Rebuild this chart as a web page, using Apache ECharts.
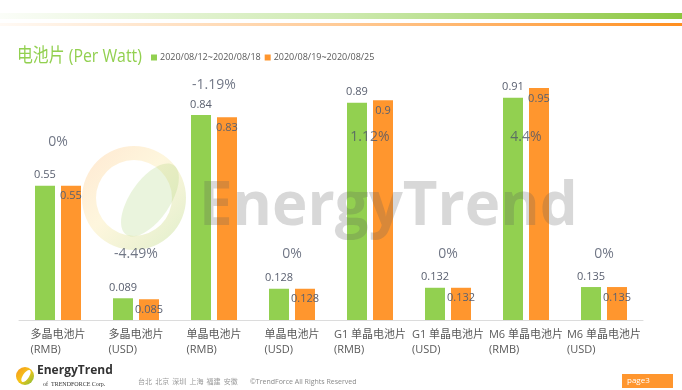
<!DOCTYPE html>
<html>
<head>
<meta charset="utf-8">
<script src="https://cdn.jsdelivr.net/npm/echarts@6/dist/echarts.min.js"></script>
<style>
html,body{margin:0;padding:0;background:#fff;}
#chart{width:682px;height:390px;}
</style>
</head>
<body>
<div id="chart"></div>
<script>
// ---- data ----
var categories = ['多晶电池片\n(RMB)', '多晶电池片\n(USD)', '单晶电池片\n(RMB)', '单晶电池片\n(USD)',
                  'G1 单晶电池片\n(RMB)', 'G1 单晶电池片\n(USD)', 'M6 单晶电池片\n(RMB)', 'M6 单晶电池片\n(USD)'];
var seriesNames = ['2020/08/12~2020/08/18', '2020/08/19~2020/08/25'];
var week1 = [0.55, 0.089, 0.84, 0.128, 0.89, 0.132, 0.91, 0.135];
var week2 = [0.55, 0.085, 0.83, 0.128, 0.9, 0.132, 0.95, 0.135];
var changeText = ['0%', '-4.49%', '-1.19%', '0%', '1.12%', '0%', '4.4%', '0%'];
var changeLabelY = [0.73, 0.27, 0.963, 0.27, 0.75, 0.27, 0.75, 0.27];

var chart = echarts.init(document.getElementById('chart'), null, {renderer: 'canvas'});
var base = '"Open Sans","Noto Sans CJK SC",sans-serif';

var option = {
  backgroundColor: '#ffffff',
  animation: false,
  legend: {
    data: seriesNames,
    left: 151, top: 53,
    icon: 'rect', itemWidth: 6, itemHeight: 6, itemGap: 4, padding: 0,
    textStyle: {color: '#595959', fontSize: 9, fontFamily: base, padding: [0, 0, 0, -2]}
  },
  grid: {left: 19, right: 39, top: 27, bottom: 70, containLabel: false},
  xAxis: {
    type: 'category',
    data: categories,
    axisLine: {show: true, lineStyle: {color: '#dcdcdc', width: 1}},
    axisTick: {show: false},
    axisLabel: {
      interval: 0, margin: 7,
      formatter: function (v) {
        var p = v.split('\n');
        return '{a|' + p[0] + '}\n{a|' + p[1] + '}';
      },
      rich: {a: {align: 'left', fontSize: 11, lineHeight: 15, color: '#595959', fontFamily: base}}
    }
  },
  yAxis: {
    type: 'value', min: 0, max: 1.2,
    show: false, splitLine: {show: false}
  },
  series: [
    {
      name: seriesNames[0], type: 'bar', data: week1,
      barWidth: 20, barGap: '30%',
      itemStyle: {color: '#92D050'},
      label: {show: true, position: 'top', distance: 5, color: '#5a6070', fontSize: 11, fontFamily: base}
    },
    {
      name: seriesNames[1], type: 'bar', data: week2,
      barWidth: 20,
      itemStyle: {color: '#FF962E'},
      label: {show: true, position: 'insideTop', distance: 5, color: '#5a6070', fontSize: 11, fontFamily: base}
    },
    {
      name: 'change', type: 'scatter', data: changeLabelY,
      symbolSize: 0, z: 5,
      label: {
        show: true, position: 'inside', color: '#4d5568', fontSize: 14, fontFamily: base,
        formatter: function (p) { return changeText[p.dataIndex]; }
      },
      tooltip: {show: false}
    }
  ],
  graphic: [
    {type: 'rect', shape: {x: 0, y: 13, width: 682, height: 6}, silent: true,
     style: {fill: new echarts.graphic.LinearGradient(0, 0, 1, 0, [
       {offset: 0, color: 'rgba(146,208,80,0.04)'}, {offset: 0.5, color: 'rgba(146,208,80,0.45)'}, {offset: 1, color: '#8CC63F'}])}},
    {type: 'rect', shape: {x: 0, y: 23, width: 682, height: 3}, silent: true,
     style: {fill: new echarts.graphic.LinearGradient(0, 0, 1, 0, [
       {offset: 0, color: 'rgba(255,150,46,0.05)'}, {offset: 0.5, color: 'rgba(255,150,46,0.5)'}, {offset: 1, color: '#FF8F1F'}])}},
    // title
    {type: 'text', x: 17, y: 47, scaleX: 0.835, silent: true,
     style: {text: '电池片 (Per Watt)', fontSize: 19, fontFamily: base, fill: '#92D050', verticalAlign: 'top'}},
    // watermark logo ring
    {type: 'ring', shape: {cx: 134, cy: 198, r: 52, r0: 38}, silent: true, z: -1,
     style: {fill: new echarts.graphic.LinearGradient(0, 0, 1, 1, [
       {offset: 0, color: 'rgba(255,170,90,0.28)'}, {offset: 0.45, color: 'rgba(250,220,120,0.25)'}, {offset: 1, color: 'rgba(146,200,80,0.3)'}])}},
    {type: 'ellipse', shape: {cx: 150, cy: 200, rx: 20, ry: 42}, rotation: -0.6, originX: 150, originY: 200, silent: true, z: -1,
     style: {fill: 'rgba(170,210,120,0.25)'}},
    // watermark text
    {type: 'text', left: 199, top: 178, z: 100, silent: true,
     style: {text: 'EnergyTrend', fontSize: 60, fontWeight: 'bold', fontFamily: base, fill: 'rgba(90,90,90,0.24)'}},
    // footer logo
    {type: 'circle', shape: {cx: 25, cy: 376, r: 9}, silent: true,
     style: {fill: new echarts.graphic.LinearGradient(0, 0, 1, 1, [
       {offset: 0, color: '#F7931E'}, {offset: 0.5, color: '#F5C518'}, {offset: 1, color: '#7DBE3C'}])}},
    {type: 'ellipse', shape: {cx: 26, cy: 376, rx: 3, ry: 7}, rotation: -0.6, originX: 26, originY: 376, silent: true,
     style: {fill: '#ffffff'}},
    {type: 'text', left: 37, top: 365, silent: true,
     style: {text: 'EnergyTrend', fontSize: 12, fontWeight: 'bold', fontFamily: base, fill: '#333333'}},
    {type: 'text', left: 43, top: 381, silent: true,
     style: {text: 'of  TRENDFORCE Corp.', fontSize: 6, fontFamily: '"Liberation Serif",serif', fill: '#333333'}},
    {type: 'text', left: 138, top: 378, silent: true,
     style: {text: '台北  北京  深圳  上海  福建  安徽', fontSize: 7, fontFamily: '"Noto Sans CJK SC",sans-serif', fill: '#9a9a9a'}},
    {type: 'text', left: 250, top: 378, silent: true,
     style: {text: '©TrendForce All Rights Reserved', fontSize: 7, fontFamily: base, fill: '#8a8a8a'}},
    {type: 'rect', shape: {x: 622, y: 374, width: 51, height: 14}, silent: true, style: {fill: '#FF962E'}},
    {type: 'text', left: 627, top: 377, silent: true,
     style: {text: 'page3', fontSize: 8, fontFamily: base, fill: '#ffffff'}}
  ]
};
chart.setOption(option);
</script>
</body>
</html>
